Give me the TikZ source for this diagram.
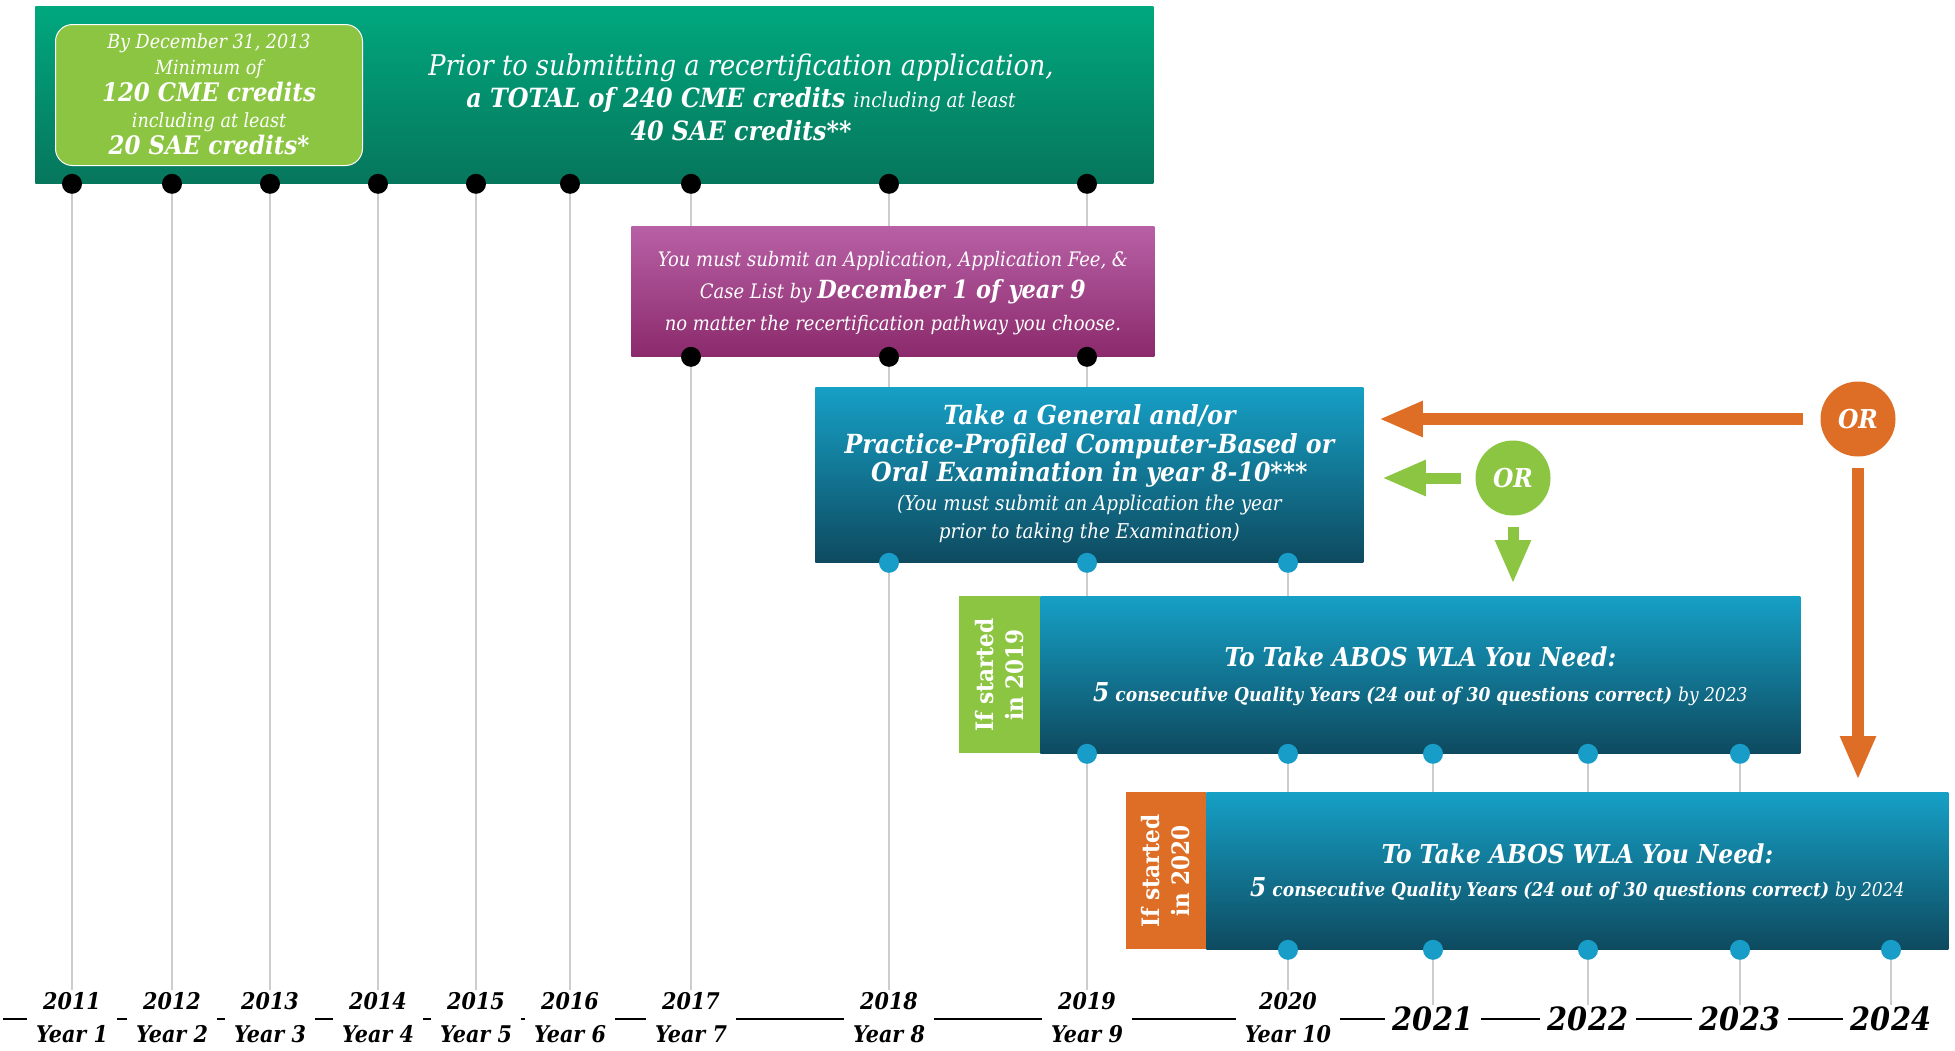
\documentclass[tikz,border=0pt]{standalone}
\usepackage{fontspec}
\setmainfont{DejaVuSerifCondensed}[Extension=.ttf, BoldFont=*-Bold, ItalicFont=*-Italic, BoldItalicFont=*-BoldItalic]
\usetikzlibrary{arrows.meta,positioning,calc,backgrounds}
\definecolor{bannertop}{RGB}{0,168,126}
\definecolor{bannerbot}{RGB}{6,118,92}
\definecolor{limegreen}{RGB}{139,197,65}
\definecolor{plumtop}{RGB}{184,96,166}
\definecolor{plumbot}{RGB}{139,42,108}
\definecolor{tealtop}{RGB}{22,160,198}
\definecolor{tealbot}{RGB}{14,74,95}
\definecolor{dotblue}{RGB}{24,156,200}
\definecolor{orangeor}{RGB}{222,110,38}
\definecolor{guidegray}{RGB}{205,205,205}

\begin{document}
\begin{tikzpicture}[x=1pt,y=-1pt,>=latex,thick]
\tikzstyle{panel} = [rectangle, anchor=north west, inner sep=0pt]
\tikzstyle{blackdot} = [circle, fill=black, minimum size=20pt, inner sep=0pt]
\tikzstyle{bluedot} = [circle, fill=dotblue, minimum size=20pt, inner sep=0pt]
\tikzstyle{guide} = [draw=guidegray, line width=1.5pt]
\tikzstyle{words} = [text=white, align=center, inner sep=0pt]
\tikzstyle{tab} = [rectangle, text=white, align=center, rotate=90, inner sep=0pt, font=\bfseries\fontsize{24}{30}\selectfont]
\tikzstyle{ornode} = [circle, minimum size=75pt, inner sep=0pt, text=white, font=\bfseries\itshape\fontsize{26}{26}\selectfont]
\tikzstyle{fat} = [line width=11pt, -{Triangle[length=44pt,width=33pt]}]
\tikzstyle{yearlab} = [fill=white, align=center, inner xsep=9pt, inner ysep=2pt, font=\bfseries\itshape\fontsize{23}{33}\selectfont]
\tikzstyle{bigyear} = [fill=white, inner xsep=8pt, inner ysep=2pt, font=\bfseries\itshape\fontsize{32}{32}\selectfont]

\useasboundingbox (0,0) rectangle (1955,1050);

\foreach \n/\x in {1/72,2/172,3/270,4/378,5/476,6/570,7/691,8/889,9/1087,10/1288,11/1433,12/1588,13/1740,14/1891}
  \coordinate (c\n) at (\x,0);
\coordinate (base) at (0,1018);
\coordinate (bigbase) at (0,1019);
\coordinate (axisL) at (3,1019);

\node[panel, top color=bannertop, bottom color=bannerbot, minimum width=1118pt, minimum height=177pt] (banner) at (35,6) {};
\node[panel, fill=limegreen, draw=white, line width=1pt, rounded corners=17pt, minimum width=307pt, minimum height=141pt] (min) at (55,24) {};
\node[words, font=\itshape\fontsize{19.5}{26.5}\selectfont] (mintxt) at ([yshift=1pt]min.center) {By December 31, 2013\\Minimum of\\{\bfseries\fontsize{25.5}{26.5}\selectfont 120 CME credits}\\including at least\\{\bfseries\fontsize{25.5}{26.5}\selectfont 20 SAE credits*}};
\node[words, font=\itshape\fontsize{28.5}{32.5}\selectfont] (prior) at (741,97) {Prior to submitting a recertification application,\\{\bfseries\fontsize{26.5}{32.5}\selectfont a TOTAL of 240 CME credits} {\fontsize{20.5}{32.5}\selectfont including at least}\\{\bfseries\fontsize{26.5}{32.5}\selectfont 40 SAE credits**}};
\foreach \n in {1,...,9}
  \node[blackdot] (b\n) at (c\n |- banner.south) {};

\node[panel, top color=plumtop, bottom color=plumbot, minimum width=523pt, minimum height=130pt] (fee) at (631,226) {};
\node[words, font=\itshape\fontsize{20}{32}\selectfont] (feetxt) at ([yshift=-2pt]fee.center) {You must submit an Application, Application Fee, \&\\Case List by {\bfseries\fontsize{25}{32}\selectfont December 1 of year 9}\\no matter the recertification pathway you choose.};
\foreach \n in {7,8,9}
  \node[blackdot] (p\n) at (c\n |- fee.south) {};

\node[panel, top color=tealtop, bottom color=tealbot, minimum width=548pt, minimum height=175pt] (exam) at (815,387) {};
\node[words, font=\itshape\fontsize{20.4}{28.5}\selectfont] (examtxt) at ([yshift=1pt]exam.center) {{\bfseries\fontsize{26.3}{28.5}\selectfont Take a General and/or}\\{\bfseries\fontsize{26.3}{28.5}\selectfont Practice-Profiled Computer-Based or}\\{\bfseries\fontsize{26.3}{28.5}\selectfont Oral Examination in year 8-10***}\\(You must submit an Application the year\\prior to taking the Examination)};
\foreach \n in {8,9,10}
  \node[bluedot] (e\n) at (c\n |- exam.south) {};

\node[panel, top color=tealtop, bottom color=tealbot, minimum width=760pt, minimum height=157pt] (wlaA) at (1040,596) {};
\node[tab, fill=limegreen, minimum width=157pt, minimum height=81pt, anchor=south] (tabA) at (wlaA.west) {If started\\in 2019};
\node[words, font=\bfseries\itshape\fontsize{26}{35}\selectfont] (wlaAtxt) at ([yshift=-1pt]wlaA.center) {To Take ABOS WLA You Need:\\5{\fontsize{19}{35}\selectfont{} consecutive Quality Years (24 out of 30 questions correct) \mdseries by 2023}};
\foreach \n in {9,...,13}
  \node[bluedot] (w\n) at (c\n |- wlaA.south) {};

\node[panel, top color=tealtop, bottom color=tealbot, minimum width=742pt, minimum height=157pt] (wlaB) at (1206,792) {};
\node[tab, fill=orangeor, minimum width=157pt, minimum height=80pt, anchor=south] (tabB) at (wlaB.west) {If started\\in 2020};
\node[words, font=\bfseries\itshape\fontsize{26}{33}\selectfont] (wlaBtxt) at ([yshift=-1pt]wlaB.center) {To Take ABOS WLA You Need:\\5{\fontsize{19}{33}\selectfont{} consecutive Quality Years (24 out of 30 questions correct) \mdseries by 2024}};
\foreach \n in {10,...,14}
  \node[bluedot] (v\n) at (c\n |- wlaB.south) {};

\node[ornode, fill=orangeor] (orA) at (1858,419) {OR};
\node[ornode, fill=limegreen] (orB) at (1513,478) {OR};
\draw[fat, orangeor, line width=12pt, shorten <=17pt, shorten >=15pt] (orA.west) -- (orA.west -| exam.east);
\draw[fat, orangeor, line width=12pt, shorten <=11pt, shorten >=12pt] (orA.south) -- (orA.south |- wlaB.north);
\draw[fat, limegreen, shorten <=14pt, shorten >=18pt] (orB.west) -- (orB.west -| exam.east);
\draw[fat, limegreen, shorten <=11pt, shorten >=12pt] (orB.south) -- (orB.south |- wlaA.north);

\foreach \n/\yr in {1/2011,2/2012,3/2013,4/2014,5/2015,6/2016,7/2017,8/2018,9/2019,10/2020}
  \node[yearlab] (y\n) at (c\n |- base) {\yr\\Year \n};
\foreach \n/\yr in {11/2021,12/2022,13/2023,14/2024}
  \node[bigyear] (y\n) at (c\n |- bigbase) {\yr};

\begin{scope}[on background layer]
\draw[line width=1.5pt] (axisL) -- (axisL -| y14.west);
\foreach \n/\top in {1/b1,2/b2,3/b3,4/b4,5/b5,6/b6,7/b7,8/b8,9/b9,10/e10,11/w11,12/w12,13/w13,14/v14}
  \draw[guide] (\top) -- (y\n);
\end{scope}
\end{tikzpicture}
\end{document}
